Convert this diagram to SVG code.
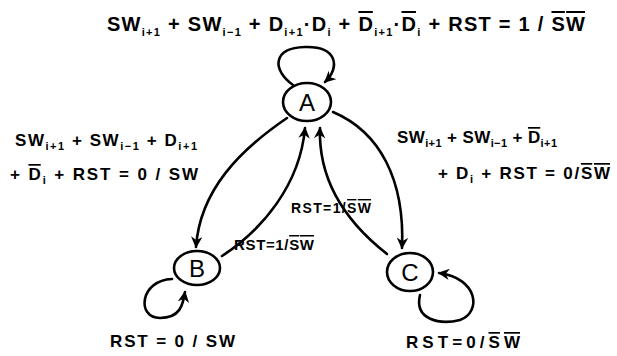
<svg xmlns="http://www.w3.org/2000/svg" width="617" height="356" viewBox="0 0 617 356">
<defs>
<marker id="ah" viewBox="0 0 10 10" refX="9" refY="5" markerWidth="4.4" markerHeight="4.4" orient="auto" markerUnits="strokeWidth">
<path d="M0,0 L10,5 L0,10 L3,5 z" fill="#000"/>
</marker>
<style>
.node ellipse{fill:#fff;stroke:#000;stroke-width:2.6}
.node text{font-family:"Liberation Sans",Arial,sans-serif;font-size:24px;text-anchor:middle;fill:#000}
.edge{fill:none;stroke:#000;stroke-width:2.6;marker-end:url(#ah);stroke-linecap:round}
.lbl{font-family:"Liberation Sans",Arial,sans-serif;fill:#000;font-weight:bold}
.sub{font-size:11px}
.ov{text-decoration:overline}
</style>
</defs>
<g id="connectors">
<path id="e-A-A" class="edge" d="M293 85 C272 70 272 48 305 47 C338 46 340 68 325 82"/>
<path id="e-A-B" class="edge" d="M287 118 C240 150 200 190 196 247"/>
<path id="e-A-C" class="edge" d="M333 112 C380 132 405 180 402 248"/>
<path id="e-B-A" class="edge" d="M222 256 C262 230 300 185 305 128"/>
<path id="e-C-A" class="edge" d="M387 254 C350 225 318 185 320 128"/>
<path id="e-B-B" class="edge" d="M172 279 C140 280 136 318 160 318 C180 318 183 305 185 292"/>
<path id="e-C-C" class="edge" d="M420 295 C414 320 440 325 460 320 C482 312 478 278 439 273"/>
</g>
<g id="node-A" class="node"><ellipse cx="307" cy="102" rx="24" ry="19"/><text x="307" y="111">A</text></g>
<g id="node-B" class="node"><ellipse cx="197" cy="268" rx="23" ry="17"/><text x="197" y="277">B</text></g>
<g id="node-C" class="node"><ellipse cx="410" cy="272" rx="23" ry="19"/><text x="410" y="281">C</text></g>
<g id="labels">
<text class="lbl" x="107" y="31" font-size="20" textLength="478" lengthAdjust="spacing">SW<tspan class="sub" dy="5">i+1</tspan><tspan dy="-5"> + SW</tspan><tspan class="sub" dy="5">i−1</tspan><tspan dy="-5"> + D</tspan><tspan class="sub" dy="5">i+1</tspan><tspan dy="-5">·D</tspan><tspan class="sub" dy="5">i</tspan><tspan dy="-5"> + </tspan><tspan class="ov">D</tspan><tspan class="sub" dy="5">i+1</tspan><tspan dy="-5">·</tspan><tspan class="ov">D</tspan><tspan class="sub" dy="5">i</tspan><tspan dy="-5"> + RST = 1 / </tspan><tspan class="ov">SW</tspan></text>
<text class="lbl" x="15" y="146" font-size="17" textLength="182" lengthAdjust="spacing">SW<tspan class="sub" dy="4">i+1</tspan><tspan dy="-4"> + SW</tspan><tspan class="sub" dy="4">i−1</tspan><tspan dy="-4"> + D</tspan><tspan class="sub" dy="4">i+1</tspan></text>
<text class="lbl" x="10" y="180" font-size="17" textLength="188" lengthAdjust="spacing">+ <tspan class="ov">D</tspan><tspan class="sub" dy="4">i</tspan><tspan dy="-4"> + RST = 0 / SW</tspan></text>
<text class="lbl" x="397" y="143" font-size="17" textLength="160" lengthAdjust="spacing">SW<tspan class="sub" dy="4">i+1</tspan><tspan dy="-4"> + SW</tspan><tspan class="sub" dy="4">i−1</tspan><tspan dy="-4"> + </tspan><tspan class="ov">D</tspan><tspan class="sub" dy="4">i+1</tspan></text>
<text class="lbl" x="438" y="179" font-size="17" textLength="172" lengthAdjust="spacing">+ D<tspan class="sub" dy="4">i</tspan><tspan dy="-4"> + RST = 0/</tspan><tspan class="ov">SW</tspan></text>
<text class="lbl" x="291" y="213" font-size="14" textLength="80" lengthAdjust="spacing">RST=1/<tspan class="ov">SW</tspan></text>
<text class="lbl" x="234" y="250" font-size="15" textLength="80" lengthAdjust="spacing">RST=1/<tspan class="ov">SW</tspan></text>
<text class="lbl" x="110" y="347" font-size="17" textLength="125" lengthAdjust="spacing">RST = 0 / SW</text>
<text class="lbl" x="406" y="348" font-size="17" textLength="114" lengthAdjust="spacing">RST=0/<tspan class="ov">SW</tspan></text>
</g>
</svg>
